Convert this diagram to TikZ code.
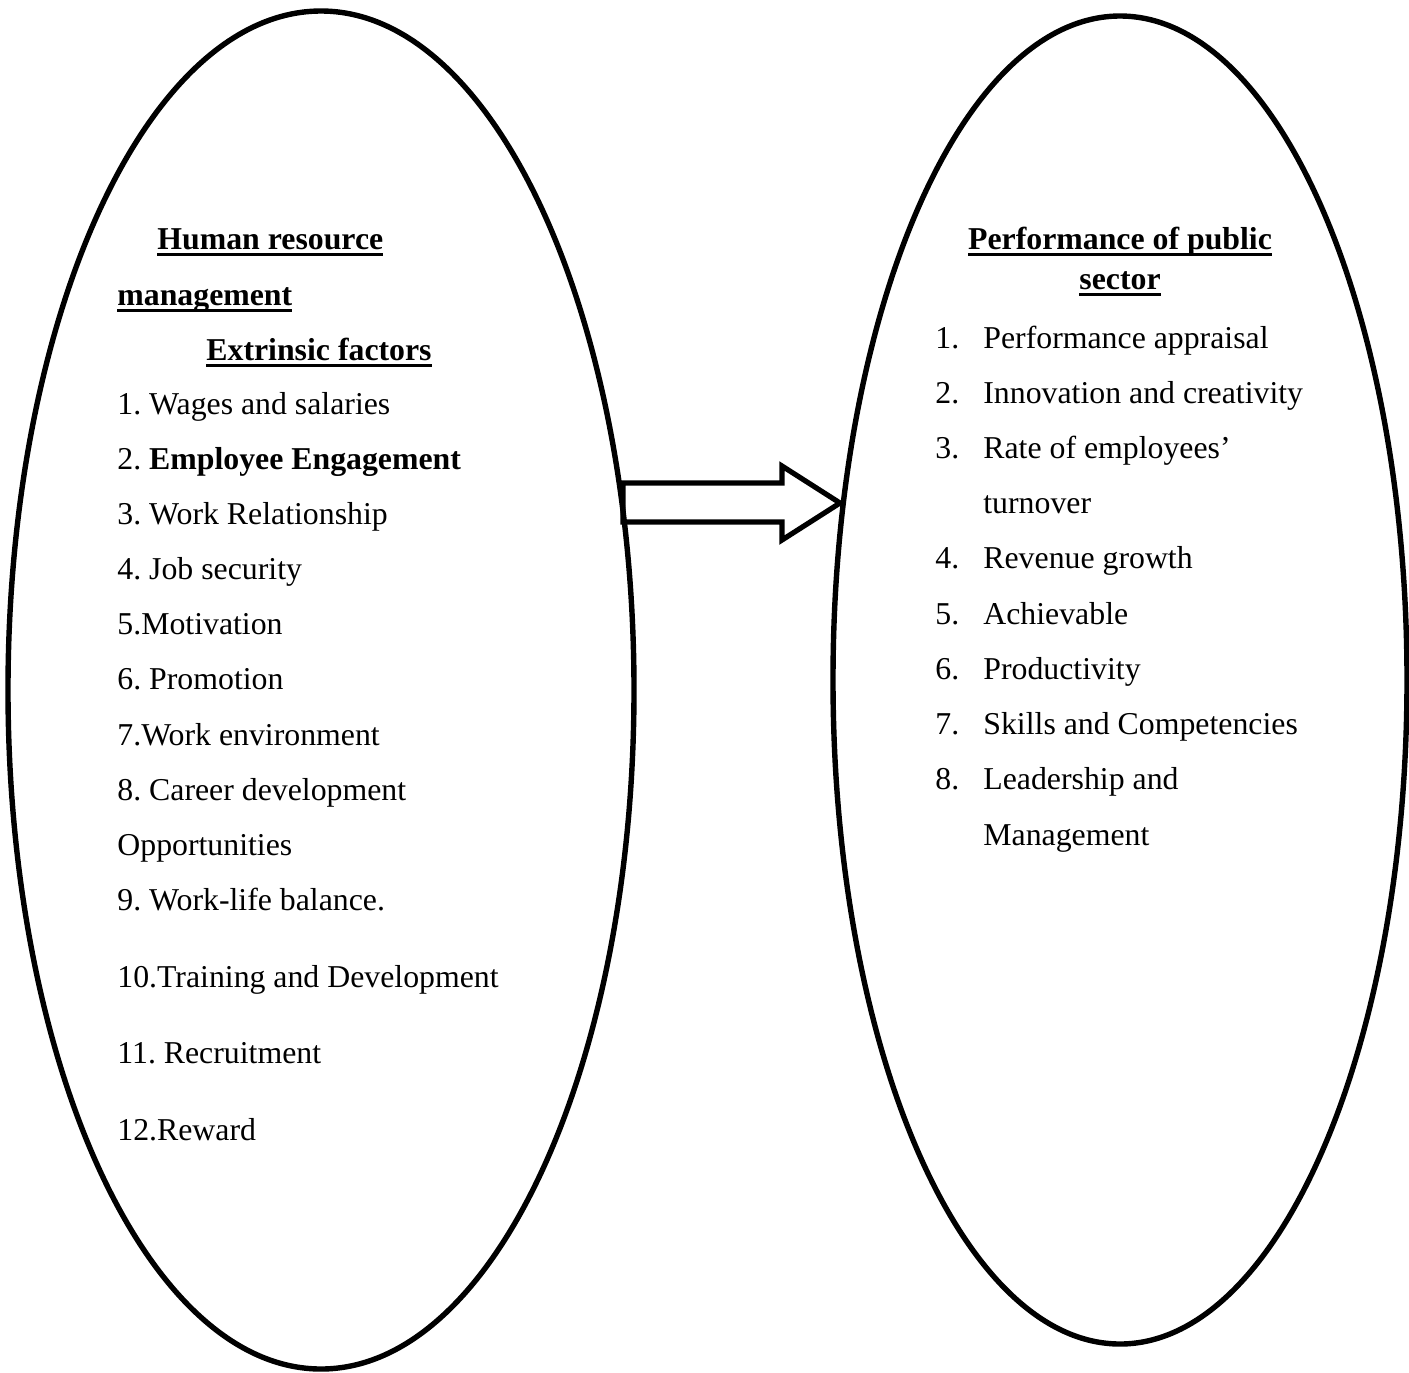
\documentclass[tikz,border=0pt]{standalone}
\usepackage{fontspec}
\setmainfont{Liberation Serif}
\usetikzlibrary{shapes.geometric,calc}
\frenchspacing

\newcommand{\hdline}[1]{\setbox0\hbox{#1}\rlap{\rule[-3.6pt]{\wd0}{1.5pt}}\box0}

\begin{document}
\begin{tikzpicture}[x=0.5pt,y=-0.5pt,
  oval/.style={draw,ellipse,line width=2.7pt,inner sep=0pt},
  item/.style={anchor=base west,inner sep=0pt,font=\fontsize{15.9}{19}\selectfont},
  head/.style={inner sep=0pt,font=\fontsize{15.9}{19}\selectfont\bfseries}]
\useasboundingbox (0,0) rectangle (1409,1372);
\node[oval,minimum width=313pt,minimum height=679pt] (hrm) at (321,690) {};
\node[oval,minimum width=287pt,minimum height=664pt] (perf) at (1120,680) {};
\node[head,anchor=base west] (h1) at (157,249) {\hdline{Human resource}};
\node[head,anchor=base west] (h2) at (117,305) {\hdline{management}};
\node[head,anchor=base west] (h3) at (206,360) {\hdline{Extrinsic factors}};
\node[item] (l1) at (117,414) {1. Wages and salaries};
\node[item] (l2) at (117,469) {2. \textbf{Employee Engagement}};
\node[item] (l3) at (117,524) {3. Work Relationship};
\node[item] (l4) at (117,579) {4. Job security};
\node[item] (l5) at (117,634) {5.Motivation};
\node[item] (l6) at (117,689) {6. Promotion};
\node[item] (l7) at (117,745) {7.Work environment};
\node[item] (l8) at (117,800) {8. Career development};
\node[item] (l8b) at (117,855) {Opportunities};
\node[item] (l9) at (117,910) {9. Work-life balance.};
\node[item] (l10) at (117,987) {10.Training and Development};
\node[item] (l11) at (117,1063) {11. Recruitment};
\node[item] (l12) at (117,1140) {12.Reward};
\node[head,anchor=base] (p1) at (1120,249) {\hdline{Performance of public}};
\node[head,anchor=base] (p2) at (1120,289) {\hdline{sector}};
\node[item] (n1) at (935,348) {1.};
\node[item] (r1) at (983,348) {Performance appraisal};
\node[item] (n2) at (935,403) {2.};
\node[item] (r2) at (983,403) {Innovation and creativity};
\node[item] (n3) at (935,458) {3.};
\node[item] (r3) at (983,458) {Rate of employees’};
\node[item] (r3b) at (983,513) {turnover};
\node[item] (n4) at (935,568) {4.};
\node[item] (r4) at (983,568) {Revenue growth};
\node[item] (n5) at (935,624) {5.};
\node[item] (r5) at (983,624) {Achievable};
\node[item] (n6) at (935,679) {6.};
\node[item] (r6) at (983,679) {Productivity};
\node[item] (n7) at (935,734) {7.};
\node[item] (r7) at (983,734) {Skills and Competencies};
\node[item] (n8) at (935,789) {8.};
\node[item] (r8) at (983,789) {Leadership and};
\node[item] (r8b) at (983,845) {Management};
\coordinate (tail) at (623,503);
\coordinate (tip) at (840,503);
\draw[line width=2.6pt,line join=miter]
  ($(tail)+(0,-20)$) -- ($(tip)+(-58,-20)$) -- ($(tip)+(-58,-37)$) -- (tip)
  -- ($(tip)+(-58,37)$) -- ($(tip)+(-58,19)$) -- ($(tail)+(0,19)$) -- cycle;
\end{tikzpicture}
\end{document}
